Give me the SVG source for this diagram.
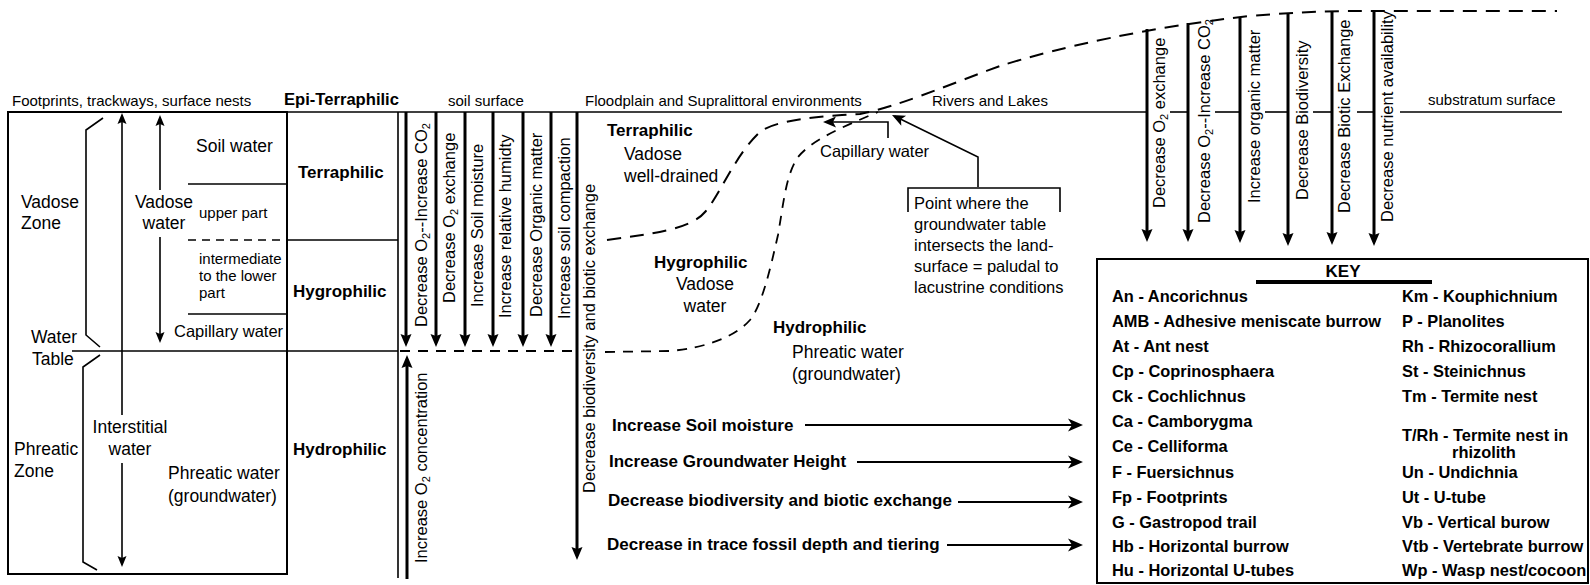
<svg xmlns="http://www.w3.org/2000/svg" width="1590" height="585" viewBox="0 0 1590 585">
<defs>
<style>
text{font-family:"Liberation Sans",Arial,Helvetica,sans-serif;fill:#000}
.t15{font-size:15px}
.t17{font-size:17.5px}
.t16{font-size:16.5px}
.b{font-weight:bold;font-size:17px}
.k{font-weight:bold;font-size:16.4px}
.ln{stroke:#000;stroke-width:1.6;fill:none}
.bx{stroke:#000;stroke-width:2;fill:none}
.thk{stroke:#000;stroke-width:3;fill:none}
.ha{stroke:#000;stroke-width:2;fill:none}
.d1{stroke:#000;stroke-width:2;fill:none;stroke-dasharray:14 9}
.d2{stroke:#000;stroke-width:1.8;fill:none;stroke-dasharray:10 8}
.dl{stroke:#000;stroke-width:1.6;fill:none;stroke-dasharray:8 6}
</style>
<marker id="ma" markerUnits="userSpaceOnUse" overflow="visible" orient="auto" markerWidth="1" markerHeight="1"><path d="M5,0 L-8,-5.5 L-6,0 L-8,5.5Z"/></marker>
<marker id="mb" markerUnits="userSpaceOnUse" overflow="visible" orient="auto" markerWidth="1" markerHeight="1"><path d="M3,0 L-12,-6.5 L-8,0 L-12,6.5Z"/></marker>
<marker id="ms" markerUnits="userSpaceOnUse" overflow="visible" orient="auto-start-reverse" markerWidth="1" markerHeight="1"><path d="M3,0 L-8,-4.5 L-6,0 L-8,4.5Z"/></marker>
<marker id="mc" markerUnits="userSpaceOnUse" overflow="visible" orient="auto" markerWidth="1" markerHeight="1"><path d="M3,0 L-10,-5.5 L-7,0 L-10,5.5Z"/></marker>
</defs>
<rect width="1590" height="585" fill="#fff"/>

<g id="connectors">
  <rect x="8" y="112" width="279" height="462" class="bx"/>
  <line x1="8" y1="112" x2="1147" y2="112" class="ln"/>
  <line x1="1170" y1="112" x2="1188" y2="112" class="ln"/>
  <line x1="1215" y1="112" x2="1240" y2="112" class="ln"/>
  <line x1="1265" y1="112" x2="1288" y2="112" class="ln"/>
  <line x1="1313" y1="112" x2="1332" y2="112" class="ln"/>
  <line x1="1357" y1="112" x2="1374" y2="112" class="ln"/>
  <line x1="1400" y1="112" x2="1562" y2="112" class="ln"/>
  <line x1="398" y1="112" x2="398" y2="578" class="ln"/>
  <line x1="188" y1="184" x2="287" y2="184" class="ln"/>
  <line x1="188" y1="240" x2="287" y2="240" class="dl"/>
  <line x1="287" y1="240" x2="398" y2="240" class="ln"/>
  <line x1="188" y1="314" x2="287" y2="314" class="ln"/>
  <line x1="72" y1="351" x2="398" y2="351" class="ln"/>
  <polyline points="103,118 86,130 86,335 100,347" class="ln"/>
  <polyline points="100,355 83,367 83,562 97,570" class="ln"/>
  <line x1="160" y1="118" x2="160" y2="190" class="ln" marker-start="url(#ms)"/>
  <line x1="160" y1="237" x2="160" y2="340" class="ln" marker-end="url(#ms)"/>
  <line x1="122" y1="116" x2="122" y2="415" class="ln" marker-start="url(#ms)"/>
  <line x1="122" y1="463" x2="122" y2="564" class="ln" marker-end="url(#ms)"/>
  <line x1="400" y1="351" x2="577" y2="351" class="d2"/>
  <path d="M605,352 L670,351 C705,348 735,337 750,320 C762,305 770,270 778,235 C784,200 786,175 798,157 C812,140 840,128 878,112" class="d2"/>
  <path d="M607,240 C650,234 690,230 705,212 C720,195 735,155 760,132 C775,120 820,116 860,114 C900,106 950,84 1000,66 C1060,47 1150,27 1250,16 C1300,12 1330,11 1360,11 L1557,11" class="d1"/>
  <line x1="406" y1="112" x2="406" y2="342" class="thk" marker-end="url(#ma)"/>
  <line x1="436" y1="112" x2="436" y2="342" class="thk" marker-end="url(#ma)"/>
  <line x1="465" y1="112" x2="465" y2="342" class="thk" marker-end="url(#ma)"/>
  <line x1="493" y1="112" x2="493" y2="342" class="thk" marker-end="url(#ma)"/>
  <line x1="523" y1="112" x2="523" y2="342" class="thk" marker-end="url(#ma)"/>
  <line x1="551" y1="112" x2="551" y2="342" class="thk" marker-end="url(#ma)"/>
  <line x1="407" y1="579" x2="407" y2="360" class="thk" marker-end="url(#ma)"/>
  <line x1="577" y1="112" x2="577" y2="555" class="thk" marker-end="url(#ma)"/>
  <line x1="1147" y1="29" x2="1147" y2="237" class="thk" marker-end="url(#ma)"/>
  <line x1="1188" y1="23" x2="1188" y2="237" class="thk" marker-end="url(#ma)"/>
  <line x1="1240" y1="18" x2="1240" y2="238" class="thk" marker-end="url(#ma)"/>
  <line x1="1288" y1="13" x2="1288" y2="241" class="thk" marker-end="url(#ma)"/>
  <line x1="1332" y1="11" x2="1332" y2="240" class="thk" marker-end="url(#ma)"/>
  <line x1="1374" y1="11" x2="1374" y2="241" class="thk" marker-end="url(#ma)"/>
  <polyline points="888,138 888,122 826,122" class="ln" marker-end="url(#mc)"/>
  <polyline points="978,187 978,157 894.7,116.3" class="ln" marker-end="url(#mc)"/>
  <polyline points="908,212 908,188 1060,188 1060,212" class="ln"/>
  <line x1="805" y1="425" x2="1080" y2="425" class="ha" marker-end="url(#mb)"/>
  <line x1="857" y1="462" x2="1080" y2="462" class="ha" marker-end="url(#mb)"/>
  <line x1="958" y1="502" x2="1080" y2="502" class="ha" marker-end="url(#mb)"/>
  <line x1="947" y1="545" x2="1080" y2="545" class="ha" marker-end="url(#mb)"/>
</g>

<g id="top-labels">
  <text x="12" y="106" class="t15">Footprints, trackways, surface nests</text>
  <text x="284" y="105" class="b" style="font-size:16.6px">Epi-Terraphilic</text>
  <text x="448" y="106" class="t15">soil surface</text>
  <text x="585" y="106" class="t15">Floodplain and Supralittoral environments</text>
  <text x="932" y="106" class="t15">Rivers and Lakes</text>
  <text x="1428" y="105" class="t15">substratum surface</text>
</g>

<g id="left-box">
  <text x="21" y="208" class="t17">Vadose</text>
  <text x="21" y="229" class="t17">Zone</text>
  <text x="31" y="343" class="t17">Water</text>
  <text x="32" y="365" class="t17">Table</text>
  <text x="14" y="455" class="t17">Phreatic</text>
  <text x="14" y="477" class="t17">Zone</text>
  <text x="164" y="208" class="t17" text-anchor="middle">Vadose</text>
  <text x="164" y="229" class="t17" text-anchor="middle">water</text>
  <text x="130" y="433" class="t17" text-anchor="middle">Interstitial</text>
  <text x="130" y="455" class="t17" text-anchor="middle">water</text>
  <text x="196" y="152" class="t17">Soil water</text>
  <text x="199" y="218" class="t15">upper part</text>
  <text x="199" y="264" class="t15">intermediate</text>
  <text x="199" y="281" class="t15">to the lower</text>
  <text x="199" y="298" class="t15">part</text>
  <text x="174" y="337" class="t16">Capillary water</text>
  <text x="168" y="479" class="t17">Phreatic water</text>
  <text x="168" y="502" class="t17">(groundwater)</text>
</g>

<g id="zone-column">
  <text x="298" y="178" class="b">Terraphilic</text>
  <text x="293" y="297" class="b">Hygrophilic</text>
  <text x="293" y="455" class="b">Hydrophilic</text>
</g>

<g id="soil-gradients">
  <text class="t16" transform="translate(427,327) rotate(-90)">Decrease O<tspan font-size="11" dy="3">2</tspan><tspan dy="-3">--Increase CO</tspan><tspan font-size="11" dy="3">2</tspan></text>
  <text class="t16" transform="translate(455,303) rotate(-90)">Decrease O<tspan font-size="11" dy="3">2</tspan><tspan dy="-3"> exchange</tspan></text>
  <text class="t16" transform="translate(483,307) rotate(-90)">Increase Soil moisture</text>
  <text class="t16" transform="translate(511,318) rotate(-90)">Increase relative humidty</text>
  <text class="t16" transform="translate(542,317) rotate(-90)">Decrease Organic matter</text>
  <text class="t16" transform="translate(570,319) rotate(-90)">Increase soil compaction</text>
  <text class="t16" transform="translate(427,563) rotate(-90)">Increase O<tspan font-size="11" dy="3">2</tspan><tspan dy="-3"> concentration</tspan></text>
  <text class="t16" transform="translate(595,493) rotate(-90)">Decrease biodiversity and biotic exchange</text>
</g>

<g id="floodplain">
  <text x="607" y="136" class="b">Terraphilic</text>
  <text x="624" y="160" class="t17">Vadose</text>
  <text x="624" y="182" class="t17">well-drained</text>
  <text x="654" y="268" class="b">Hygrophilic</text>
  <text x="705" y="290" class="t17" text-anchor="middle">Vadose</text>
  <text x="705" y="312" class="t17" text-anchor="middle">water</text>
  <text x="773" y="333" class="b">Hydrophilic</text>
  <text x="792" y="358" class="t17">Phreatic water</text>
  <text x="792" y="380" class="t17">(groundwater)</text>
  <text x="820" y="157" class="t16">Capillary water</text>
</g>

<g id="point-note">
  <text x="914" y="209" class="t16">Point where the</text>
  <text x="914" y="230" class="t16">groundwater table</text>
  <text x="914" y="251" class="t16">intersects the land-</text>
  <text x="914" y="272" class="t16">surface = paludal to</text>
  <text x="914" y="293" class="t16">lacustrine conditions</text>
</g>

<g id="lake-gradients">
  <text class="t16" transform="translate(1165,208) rotate(-90)">Decrease O<tspan font-size="11" dy="3">2</tspan><tspan dy="-3"> exchange</tspan></text>
  <text class="t16" transform="translate(1210,223) rotate(-90)">Decrease O<tspan font-size="11" dy="3">2</tspan><tspan dy="-3">--Increase CO</tspan><tspan font-size="11" dy="3">2</tspan></text>
  <text class="t16" transform="translate(1260,203) rotate(-90)">Increase organic matter</text>
  <text class="t16" transform="translate(1308,200) rotate(-90)">Decrease Biodiversity</text>
  <text class="t16" transform="translate(1350,213) rotate(-90)">Decrease Biotic Exchange</text>
  <text class="t16" transform="translate(1393,222) rotate(-90)">Decrease nutrient availability</text>
</g>

<g id="trend-labels">
  <text x="612" y="431" class="b">Increase Soil moisture</text>
  <text x="609" y="467" class="b">Increase Groundwater Height</text>
  <text x="608" y="506" class="b">Decrease biodiversity and biotic exchange</text>
  <text x="607" y="550" class="b">Decrease in trace fossil depth and tiering</text>
</g>

<g id="key">
  <rect x="1097" y="259" width="491" height="324" class="bx"/>
  <rect x="1256" y="280" width="176" height="4" fill="#000"/>
  <text x="1343" y="277" class="b" text-anchor="middle">KEY</text>
  <text x="1112" y="302" class="k">An - Ancorichnus</text>
  <text x="1112" y="327" class="k">AMB - Adhesive meniscate burrow</text>
  <text x="1112" y="352" class="k">At - Ant nest</text>
  <text x="1112" y="377" class="k">Cp - Coprinosphaera</text>
  <text x="1112" y="402" class="k">Ck - Cochlichnus</text>
  <text x="1112" y="427" class="k">Ca - Camborygma</text>
  <text x="1112" y="452" class="k">Ce - Celliforma</text>
  <text x="1112" y="478" class="k">F - Fuersichnus</text>
  <text x="1112" y="503" class="k">Fp - Footprints</text>
  <text x="1112" y="528" class="k">G - Gastropod trail</text>
  <text x="1112" y="552" class="k">Hb - Horizontal burrow</text>
  <text x="1112" y="576" class="k">Hu - Horizontal U-tubes</text>
  <text x="1402" y="302" class="k">Km - Kouphichnium</text>
  <text x="1402" y="327" class="k">P - Planolites</text>
  <text x="1402" y="352" class="k">Rh - Rhizocorallium</text>
  <text x="1402" y="377" class="k">St - Steinichnus</text>
  <text x="1402" y="402" class="k">Tm - Termite nest</text>
  <text x="1402" y="441" class="k">T/Rh - Termite nest in</text>
  <text x="1452" y="458" class="k">rhizolith</text>
  <text x="1402" y="478" class="k">Un - Undichnia</text>
  <text x="1402" y="503" class="k">Ut - U-tube</text>
  <text x="1402" y="528" class="k">Vb - Vertical burow</text>
  <text x="1402" y="552" class="k">Vtb - Vertebrate burrow</text>
  <text x="1402" y="576" class="k">Wp - Wasp nest/cocoon</text>
</g>
</svg>
